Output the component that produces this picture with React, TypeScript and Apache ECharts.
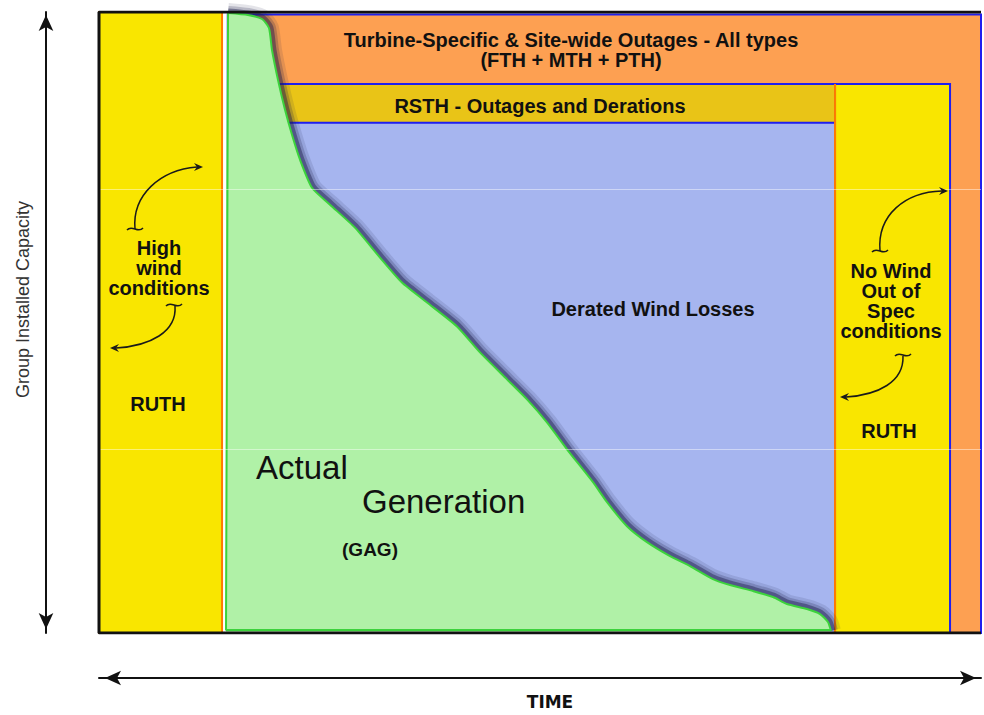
import React, { useEffect, useRef } from "react";
import * as echarts from "echarts";

// Axes: time 0–100 (x) and group installed capacity 0–100 (y)
const regionNames = ["Outages", "RUTH (high wind)", "Derated Wind Losses", "RSTH", "RUTH (no wind)"];
const regionStart = [14.6, 0, 19.6, 19.6, 83.45];
const regionEnd = [100, 13.95, 83.45, 83.45, 96.49];
const regionLow = [0, 0, 0, 82.15, 0];
const regionHigh = [99.6, 100, 82.15, 88.4, 88.4];

const genTime = [14.4, 14.63, 16.89, 18.48, 19.27, 19.61, 20.29, 21.09, 21.88, 22.79, 24.15, 26.19, 29.02, 31.86, 34.35, 37.19, 40.59, 43.2, 46.26, 48.53, 50.79, 53.06, 56.01, 57.6, 59.86, 62.13, 64.74, 67.01, 69.61, 71.54, 74.15, 76.42, 78.0, 80.27, 81.75, 82.65, 82.99];
const genCapacity = [0, 99.84, 99.52, 98.87, 97.43, 93.89, 89.07, 84.24, 80.23, 76.21, 71.7, 68.97, 65.27, 60.45, 56.43, 53.22, 49.36, 45.18, 40.84, 37.62, 33.92, 29.58, 24.28, 21.06, 17.2, 14.63, 12.38, 10.77, 8.68, 7.72, 6.75, 5.79, 4.66, 3.86, 3.05, 1.77, 0.32];
const frameTime = [100, 0, 0, 100];
const frameCapacity = [0, 0, 100, 100];
const faintLines = [71.38, 29.58];

// styles
const regionFill = ["#FDA052", "#F9E600", "#A6B5EF", "#E9C417", "#F9E600"];
const regionStroke = ["#1F1FEF", "#FF7B00", "none", "#1F1FEF", "#1F1FEF"];
const regionLeftEdge = ["", "", "", "", "#FF7B00"];

const FONT = "'Liberation Sans', Arial, Helvetica, sans-serif";

function label(x: number, y: number, text: string, size = 20, weight: string = "bold", align = "center") {
  return {
    type: "text",
    x,
    y,
    z: 50,
    style: {
      text,
      fill: "#111",
      font: `${weight} ${size}px ${FONT}`,
      textAlign: align,
      textVerticalAlign: "middle",
      lineHeight: 20,
    },
  };
}

function arc(x1: number, y1: number, cpx1: number, cpy1: number, cpx2: number, cpy2: number, x2: number, y2: number) {
  return {
    type: "bezierCurve",
    z: 50,
    shape: { x1, y1, cpx1, cpy1, cpx2, cpy2, x2, y2 },
    style: { stroke: "#1a1a1a", lineWidth: 1.5, fill: "none" },
  };
}

function head(x: number, y: number, dir: number) {
  return {
    type: "polygon",
    z: 50,
    shape: { points: [[x, y], [x - 9 * dir, y - 4], [x - 6 * dir, y], [x - 9 * dir, y + 4]] },
    style: { fill: "#1a1a1a" },
  };
}

function tilde(x: number, y: number) {
  return {
    type: "bezierCurve",
    z: 50,
    shape: { x1: x - 8, y1: y + 1, cpx1: x - 3, cpy1: y - 5, cpx2: x + 3, cpy2: y + 5, x2: x + 8, y2: y - 1 },
    style: { stroke: "#1a1a1a", lineWidth: 1.5, fill: "none" },
  };
}

export default function App() {
  const ref = useRef<HTMLDivElement>(null);
  useEffect(() => {
    if (!ref.current) return;
    const chart = echarts.init(ref.current, undefined, { renderer: "svg" });
    const last = genTime.length - 1;
    const curve = genTime.slice(1).map((t, i) => [t, genCapacity[i + 1]]);
    const shadowLine = (width: number, alpha: number) => ({
      type: "line",
      name: "shadow",
      z: 2,
      silent: true,
      symbol: "none",
      smooth: 0.2,
      data: curve,
      lineStyle: { color: `rgba(30,30,75,${alpha})`, width },
    });
    const option: any = {
      animation: false,
      backgroundColor: "#ffffff",
      grid: { left: 99, right: 3, top: 12, bottom: 81 },
      xAxis: {
        type: "value",
        min: 0,
        max: 100,
        offset: 45,
        name: "TIME",
        nameLocation: "middle",
        nameGap: 15,
        nameTextStyle: {
          fontFamily: "'DejaVu Sans', sans-serif",
          fontWeight: "bold",
          fontSize: 17,
          color: "#111",
          padding: [0, 0, 0, 20],
        },
        axisLine: {
          show: true,
          onZero: false,
          symbol: ["arrow", "arrow"],
          symbolSize: [11, 16],
          symbolOffset: [6, -5],
          lineStyle: { color: "#111", width: 2 },
        },
        axisTick: { show: false },
        axisLabel: { show: false },
        splitLine: { show: false },
      },
      yAxis: {
        type: "value",
        min: 0,
        max: 100,
        offset: 53,
        name: "Group Installed Capacity",
        nameLocation: "middle",
        nameRotate: 90,
        nameGap: 14,
        nameTextStyle: {
          fontFamily: FONT,
          fontSize: 18,
          color: "#333",
          padding: [0, 0, 0, 46],
        },
        axisLine: {
          show: true,
          onZero: false,
          symbol: ["arrow", "arrow"],
          symbolSize: [11, 16],
          symbolOffset: [4, -3],
          lineStyle: { color: "#111", width: 2 },
        },
        axisTick: { show: false },
        axisLabel: { show: false },
        splitLine: { show: false },
      },
      series: [
        {
          type: "custom",
          name: "regions",
          z: 1,
          silent: true,
          encode: { x: [0, 1], y: [2, 3] },
          data: regionNames.map((n, i) => ({ name: n, value: [regionStart[i], regionEnd[i], regionLow[i], regionHigh[i]] })),
          renderItem: (params: any, api: any) => {
            const i = params.dataIndex;
            const tl = api.coord([api.value(0), api.value(3)]);
            const br = api.coord([api.value(1), api.value(2)]);
            const children: any[] = [
              {
                type: "rect",
                shape: { x: tl[0], y: tl[1], width: br[0] - tl[0], height: br[1] - tl[1] },
                style: { fill: regionFill[i], stroke: regionStroke[i], lineWidth: 2 },
              },
            ];
            if (regionLeftEdge[i]) {
              children.push({
                type: "line",
                shape: { x1: tl[0], y1: tl[1], x2: tl[0], y2: br[1] },
                style: { stroke: regionLeftEdge[i], lineWidth: 2 },
              });
            }
            return { type: "group", children };
          },
        },
        shadowLine(20, 0.12),
        shadowLine(14, 0.22),
        shadowLine(9, 0.45),
        {
          type: "line",
          name: "Actual Generation area",
          z: 3,
          silent: true,
          symbol: "none",
          smooth: 0.2,
          data: genTime.map((t, i) => [t, genCapacity[i]]),
          lineStyle: { width: 0 },
          areaStyle: { color: "#B0F1A7", opacity: 1 },
        },
        {
          type: "line",
          name: "Actual Generation",
          z: 4,
          silent: true,
          symbol: "none",
          smooth: 0.2,
          data: curve,
          lineStyle: { color: "#3CD23C", width: 2 },
        },
        {
          type: "line",
          name: "Actual Generation edge",
          z: 4,
          silent: true,
          symbol: "none",
          data: [
            [genTime[1], genCapacity[1]],
            [genTime[0], 0.5],
            [genTime[last], 0.5],
          ],
          lineStyle: { color: "#3CD23C", width: 2 },
        },
        {
          type: "line",
          name: "frame",
          z: 5,
          silent: true,
          symbol: "none",
          data: frameTime.map((t, i) => [t, frameCapacity[i]]),
          lineStyle: { color: "#111", width: 3 },
          markLine: {
            silent: true,
            symbol: "none",
            label: { show: false },
            lineStyle: { color: "#ffffff", opacity: 0.45, width: 1, type: "solid" },
            data: faintLines.map((v) => ({ yAxis: v })),
          },
        },
      ],
      graphic: [
        label(571, 50, "Turbine-Specific & Site-wide Outages - All types\n(FTH + MTH + PTH)"),
        label(540, 106, "RSTH - Outages and Derations"),
        label(653, 309, "Derated Wind Losses"),
        label(159, 268, "High\nwind\nconditions"),
        label(158, 404, "RUTH"),
        label(891, 301, "No Wind\nOut of\nSpec\nconditions"),
        label(889, 431, "RUTH"),
        label(256, 467, "Actual", 33, "normal", "left"),
        label(362, 501, "Generation", 33, "normal", "left"),
        label(370, 549, "(GAG)", 19, "bold"),
        arc(135, 229, 132, 195, 160, 170, 197, 167),
        head(203, 167, 1),
        tilde(135, 229),
        arc(175, 306, 177, 332, 150, 346, 116, 348),
        head(110, 348, -1),
        tilde(174, 305),
        arc(880, 251, 877, 215, 905, 192, 942, 191),
        head(948, 191, 1),
        tilde(880, 251),
        arc(903, 356, 904, 382, 878, 395, 846, 397),
        head(840, 397, -1),
        tilde(903, 355),
      ],
    };
    chart.setOption(option);
    return () => chart.dispose();
  }, []);
  return (
    <div
      ref={ref}
      style={{ position: "fixed", left: 0, top: 0, width: 984, height: 715, background: "#fff" }}
    />
  );
}
